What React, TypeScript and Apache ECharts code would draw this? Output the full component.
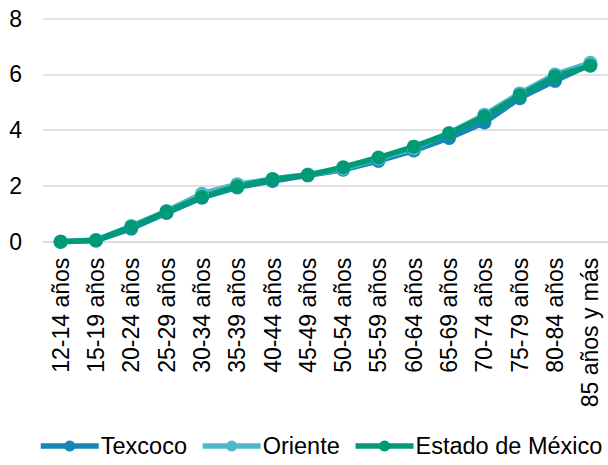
import React, { useEffect, useRef } from "react";
import * as echarts from "echarts";

const categories = [
  "12-14 años", "15-19 años", "20-24 años", "25-29 años", "30-34 años", "35-39 años",
  "40-44 años", "45-49 años", "50-54 años", "55-59 años", "60-64 años", "65-69 años",
  "70-74 años", "75-79 años", "80-84 años", "85 años y más",
];
const texcoco = [0.0, 0.04, 0.47, 1.03, 1.58, 1.95, 2.18, 2.38, 2.58, 2.9, 3.27, 3.72, 4.28, 5.15, 5.77, 6.36];
const oriente = [0.0, 0.06, 0.56, 1.1, 1.72, 2.06, 2.25, 2.41, 2.62, 2.98, 3.35, 3.9, 4.55, 5.32, 6.0, 6.42];
const estado = [0.0, 0.05, 0.53, 1.07, 1.6, 1.98, 2.24, 2.39, 2.67, 3.02, 3.41, 3.88, 4.49, 5.25, 5.93, 6.31];
const yTicks = { min: 0, max: 8, interval: 2 };

const COLORS = { texcoco: "#1687b5", oriente: "#4db8c9", estado: "#009a77" };
const FONT = "'Liberation Sans', Arial, sans-serif";

export default function App() {
  const ref = useRef<HTMLDivElement>(null);
  useEffect(() => {
    if (!ref.current) return;
    const chart = echarts.init(ref.current, undefined, { renderer: "svg" });
    const mk = (name: string, data: number[], color: string) => ({
      name,
      type: "line",
      data,
      symbol: "circle",
      symbolSize: 14,
      lineStyle: { width: 5.5, color },
      itemStyle: { color },
      emphasis: { disabled: true },
    });
    chart.setOption({
      animation: false,
      textStyle: { fontFamily: FONT },
      grid: { left: 43, right: -3, top: 18.7, bottom: 223.3, containLabel: false },
      xAxis: {
        type: "category",
        data: categories,
        boundaryGap: true,
        axisLine: { show: true, lineStyle: { color: "#d9d9d9", width: 1.5 } },
        axisTick: { show: false },
        axisLabel: {
          rotate: 90,
          margin: 16,
          fontSize: 23,
          color: "#000",
          fontFamily: FONT,
          interval: 0,
        },
      },
      yAxis: {
        type: "value",
        min: yTicks.min,
        max: yTicks.max,
        interval: yTicks.interval,
        axisLine: { show: false },
        axisTick: { show: false },
        splitLine: { lineStyle: { color: "#d9d9d9", width: 1.5 } },
        axisLabel: { fontSize: 23, color: "#000", margin: 21, fontFamily: FONT },
      },
      legend: {
        bottom: 7,
        left: 38,
        width: 570,
        padding: 0,
        itemWidth: 58,
        itemHeight: 14,
        itemGap: 13,
        lineStyle: { width: 5.5 },
        textStyle: { fontSize: 23.5, color: "#000", fontFamily: FONT, padding: [0, 0, 0, -3] },
        data: ["Texcoco", "Oriente", "Estado de México"],
      },
      series: [
        mk("Texcoco", texcoco, COLORS.texcoco),
        mk("Oriente", oriente, COLORS.oriente),
        mk("Estado de México", estado, COLORS.estado),
      ],
    });
    return () => chart.dispose();
  }, []);
  return (
    <div style={{ position: "absolute", left: 0, top: 0, width: 608, height: 465, overflow: "hidden", background: "#fff" }}>
      <div ref={ref} style={{ width: 608, height: 465 }} />
    </div>
  );
}
